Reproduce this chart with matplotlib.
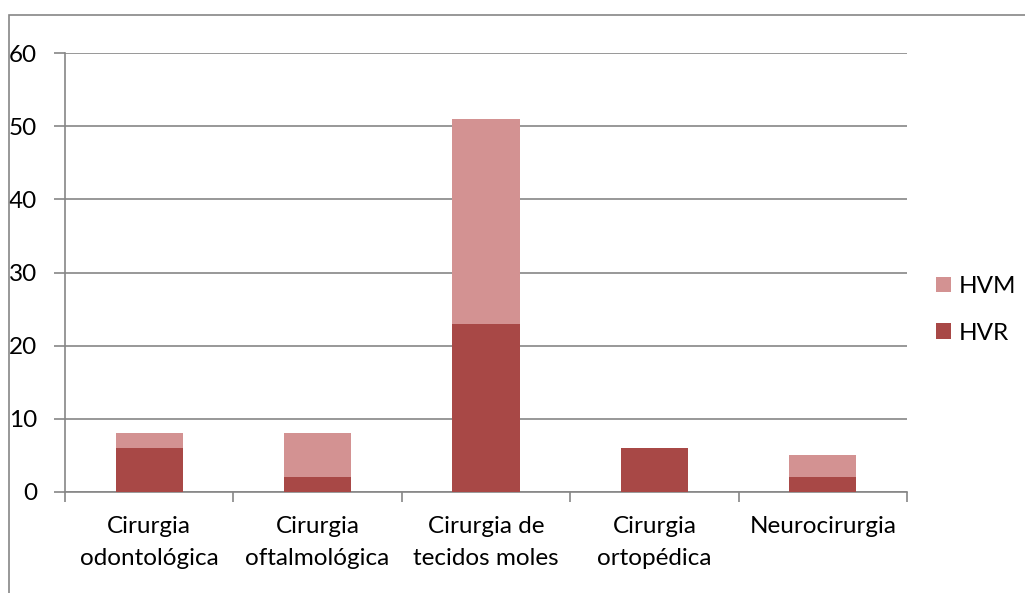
import numpy as np
import matplotlib.pyplot as plt
from matplotlib.patches import Rectangle

categorias = ["Cirurgia\nodontológica", "Cirurgia\noftalmológica", "Cirurgia de\ntecidos moles",
              "Cirurgia\nortopédica", "Neurocirurgia"]
hvr = [6, 2, 23, 6, 2]
hvm = [2, 6, 28, 0, 3]
yticks = [0, 10, 20, 30, 40, 50, 60]

cor_hvr = "#A84846"
cor_hvm = "#D39292"
cinza = "#868686"

plt.rcParams['font.family'] = ['Lato', 'DejaVu Sans']
plt.rcParams['font.size'] = 17.5

fig = plt.figure(figsize=(10.25, 5.93), dpi=100)
ax = fig.add_axes([65/1025, 1-492/593, (907-65)/1025, (492-53)/593])

x = np.arange(len(categorias))
b1 = ax.bar(x, hvr, width=0.4, color=cor_hvr, label="HVR", zorder=3)
b2 = ax.bar(x, hvm, width=0.4, bottom=hvr, color=cor_hvm, label="HVM", zorder=3)

ax.set_xlim(-0.5, len(categorias) - 0.5)
ax.set_ylim(0, 60)
ax.set_yticks(yticks)
ax.yaxis.grid(True, color=cinza, lw=1.2, zorder=0)

ax.set_xticks(x)
ax.set_xticklabels(categorias, linespacing=1.65)
ax.set_xticks(np.arange(len(categorias) + 1) - 0.5, minor=True)
ax.tick_params(axis='x', which='major', length=0, pad=17)
ax.tick_params(axis='x', which='minor', length=7, color=cinza, width=1.2)
ax.tick_params(axis='y', length=8, color=cinza, width=1.2, pad=12)

for s in ['top', 'right']:
    ax.spines[s].set_visible(False)
for s in ['left', 'bottom']:
    ax.spines[s].set_color(cinza)
    ax.spines[s].set_linewidth(1.2)

ax.legend([b2, b1], ["HVM", "HVR"], loc='center left', bbox_to_anchor=(936/1025, 1-310/593),
          bbox_transform=fig.transFigure, frameon=False, handlelength=0.6, handleheight=0.6,
          handletextpad=0.35, labelspacing=1.05, borderaxespad=0, borderpad=0)

# moldura externa do gráfico
fig.patches.append(Rectangle((9/1025, -0.1), 1.2, 1.1 - 15/593, transform=fig.transFigure,
                             fill=False, edgecolor=cinza, lw=1.2))

fig.savefig("out.png", dpi=100)
